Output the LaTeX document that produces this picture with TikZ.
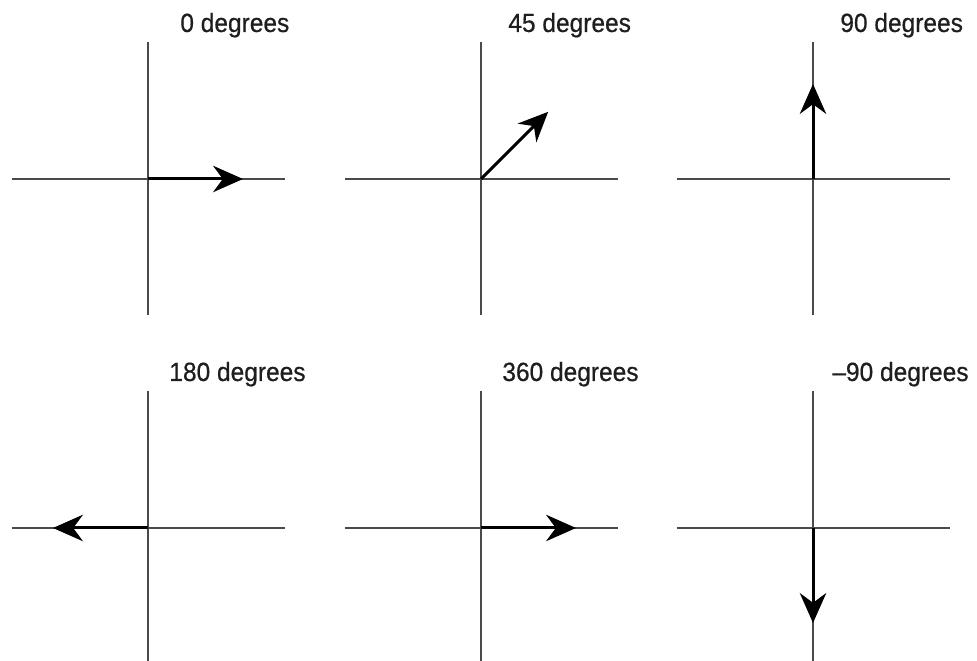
\documentclass[tikz,border=0pt]{standalone}
\usepackage{fontspec}
\setmainfont{Liberation Sans}
\newfontfamily\lblfont{Liberation Sans}[Ligatures=TeX, FakeBold=0.6, FakeStretch=0.93]
\usetikzlibrary{arrows.meta}
\definecolor{axisgray}{HTML}{4A4A4A}
\definecolor{labelgray}{HTML}{1E1E1E}
\tikzset{
  axis/.style={axisgray, line width=1.15pt},
  vec/.style={black, line width=1.7pt, -{Stealth[length=17pt, width=15pt, inset=5.5pt]}},
  anglelabel/.style={labelgray, anchor=base west, inner sep=0pt,
    font=\lblfont\fontsize{15}{17}\selectfont}
}
\begin{document}
\begin{tikzpicture}[x=0.02cm, y=0.02cm]
    % cadre : 977 x 661 px
    \useasboundingbox (0,0) rectangle (977,661);
    \def\half{136.5} % demi-longueur des axes
    \def\len{95}     % longueur du vecteur

    % origine x / origine y / angle / texte / decalage du texte
    \foreach \ox/\oy/\ang/\txt/\dx [count=\i] in {
        148/482/0/0 degrees/32,
        481/482/45/45 degrees/27,
        813/482/90/90 degrees/27,
        148/133/180/180 degrees/21,
        481/133/360/360 degrees/21,
        813/133/-90/–90 degrees/19} {
      \begin{scope}[shift={(\ox,\oy)}]
        \coordinate (o\i) at (0,0);
        \coordinate (w\i) at (-\half,0);
        \coordinate (e\i) at (\half,0);
        \coordinate (n\i) at (0,\half);
        \coordinate (s\i) at (0,-\half);
        \coordinate (tip\i) at (\ang:\len);
        % axes
        \draw[axis] (w\i) -- (e\i);
        \draw[axis] (s\i) -- (n\i);
        % vecteur
        \draw[vec] (o\i) -- (tip\i);
        \node[anglelabel] (lbl\i) at (\dx,147) {\txt};
      \end{scope}
    }
\end{tikzpicture}
\end{document}
